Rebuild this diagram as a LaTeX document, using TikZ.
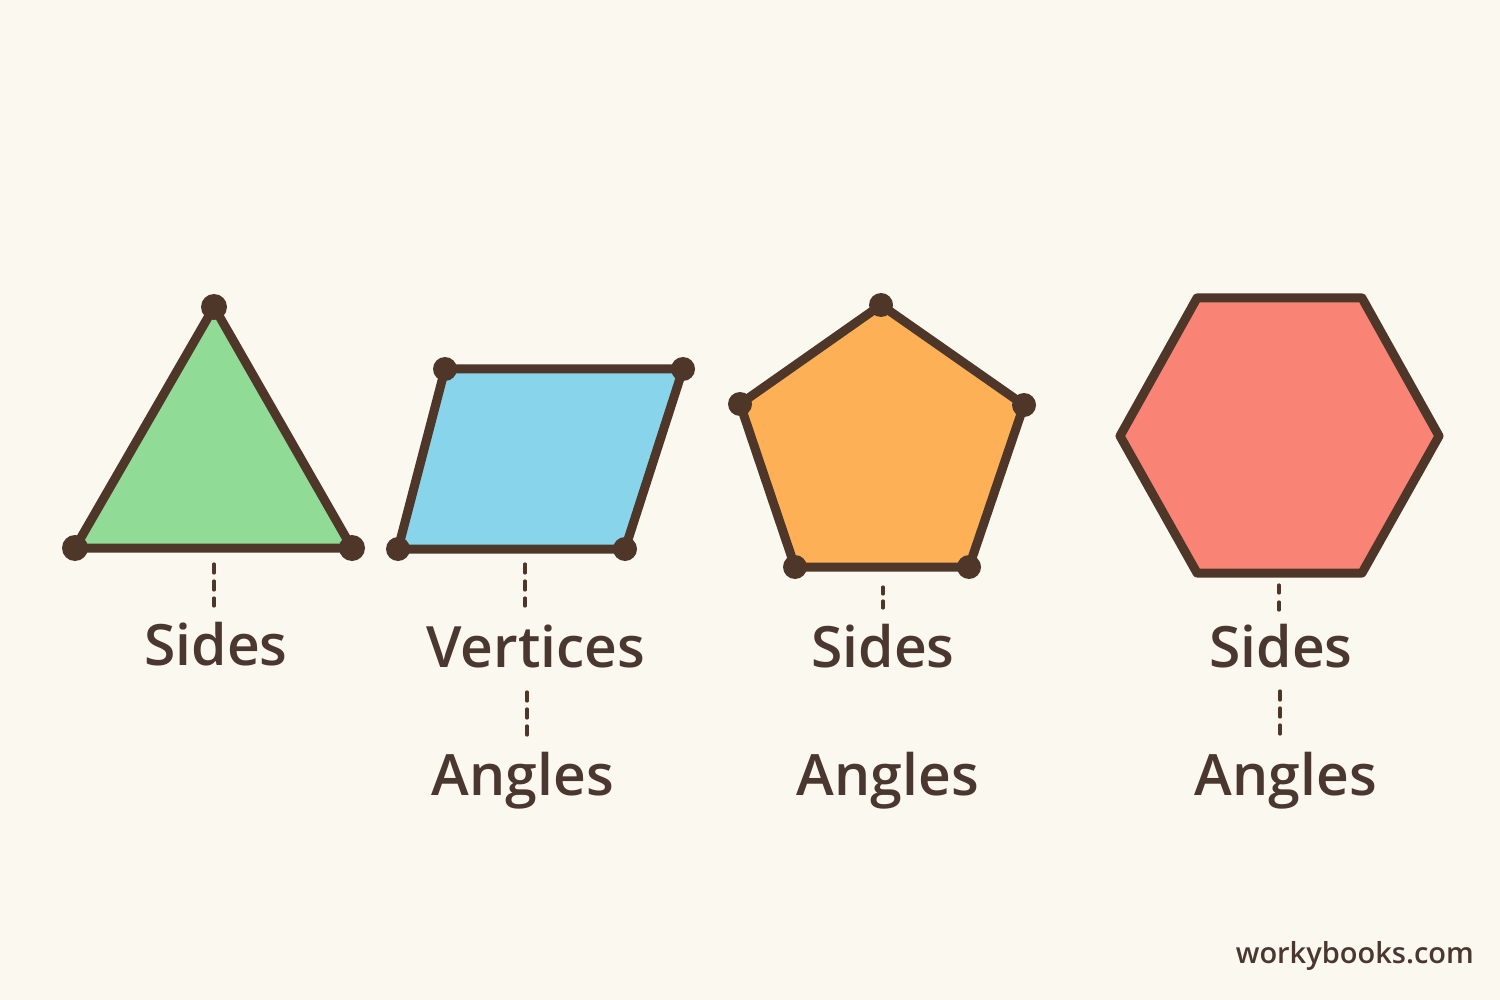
\documentclass[tikz,border=0pt]{standalone}
\usepackage{fontspec}
\setmainfont{Open Sans}
\newfontfamily\lblfont{Open Sans}[UprightFont={* Semibold}]
\definecolor{bgc}{HTML}{FBF8EF}
\definecolor{edge}{HTML}{4E3629}
\definecolor{txt}{HTML}{4A3830}
\definecolor{grn}{HTML}{90DC96}
\definecolor{blu}{HTML}{88D4EB}
\definecolor{org}{HTML}{FDB055}
\definecolor{sal}{HTML}{F98476}
\tikzset{
  poly/.style={draw=edge, line width=9pt, line join=round},
  vdot/.style={fill=edge},
  dashline/.style={draw=edge, line width=3.2pt, line cap=round, dash pattern=on 9pt off 8pt},
  lbl/.style={text=txt, font=\lblfont\fontsize{57}{60}\selectfont, anchor=base, inner sep=0pt},
  brand/.style={text=txt, font=\lblfont\fontsize{29}{31}\selectfont, anchor=base east, inner sep=0pt}
}
\begin{document}
\begin{tikzpicture}[x=1pt,y=-1pt]
\useasboundingbox[fill=bgc] (0,0) rectangle (1500,1000);

% triangle
\coordinate (ta) at (214,307);
\coordinate (tb) at (75,548);
\coordinate (tc) at (352,548);
\draw[poly, fill=grn] (ta) -- (tc) -- (tb) -- cycle;
\foreach \p in {ta,tb,tc} \fill[vdot] (\p) circle (13pt);

% parallelogram
\coordinate (pa) at (445,369);
\coordinate (pb) at (683,369);
\coordinate (pc) at (625,549);
\coordinate (pd) at (398,549);
\draw[poly, fill=blu] (pa) -- (pb) -- (pc) -- (pd) -- cycle;
\foreach \p in {pa,pb,pc,pd} \fill[vdot] (\p) circle (12pt);

% pentagon
\coordinate (qa) at (881,305);
\coordinate (qb) at (1024,405);
\coordinate (qc) at (969,567);
\coordinate (qd) at (795,567);
\coordinate (qe) at (740,404);
\draw[poly, fill=org] (qa) -- (qb) -- (qc) -- (qd) -- (qe) -- cycle;
\foreach \p in {qa,qb,qc,qd,qe} \fill[vdot] (\p) circle (12pt);

% hexagon
\coordinate (ha) at (1197,298);
\coordinate (hb) at (1362,298);
\coordinate (hc) at (1439,436);
\coordinate (hd) at (1362,573);
\coordinate (he) at (1197,573);
\coordinate (hf) at (1120,436);
\draw[poly, fill=sal] (ha) -- (hb) -- (hc) -- (hd) -- (he) -- (hf) -- cycle;

% labels
\node[lbl] (s1) at (216,665) {Sides};
\node[lbl] (v2) at (536,667) {Vertices};
\node[lbl] (a2) at (523,795) {Angles};
\node[lbl] (s3) at (883,667) {Sides};
\node[lbl] (a3) at (888,795) {Angles};
\node[lbl] (s4) at (1281,667) {Sides};
\node[lbl] (a4) at (1286,795) {Angles};
\node[brand] (wb) at (1474,963) {workybooks.com};

% dashed connectors
\coordinate (d1a) at (214,564);
\coordinate (d1b) at (214,606);
\draw[dashline] (d1a) -- (d1b);
\coordinate (d2a) at (525,564);
\coordinate (d2b) at (525,606);
\draw[dashline] (d2a) -- (d2b);
\coordinate (d3a) at (527,692);
\coordinate (d3b) at (527,739);
\draw[dashline] (d3a) -- (d3b);
\coordinate (d4a) at (883,587);
\coordinate (d4b) at (883,611);
\draw[dashline, dash pattern=on 7pt off 7pt] (d4a) -- (d4b);
\coordinate (d5a) at (1279,585);
\coordinate (d5b) at (1279,612);
\draw[dashline, dash pattern=on 8pt off 9pt] (d5a) -- (d5b);
\coordinate (d6a) at (1280,691);
\coordinate (d6b) at (1280,738);
\draw[dashline] (d6a) -- (d6b);
\end{tikzpicture}
\end{document}
